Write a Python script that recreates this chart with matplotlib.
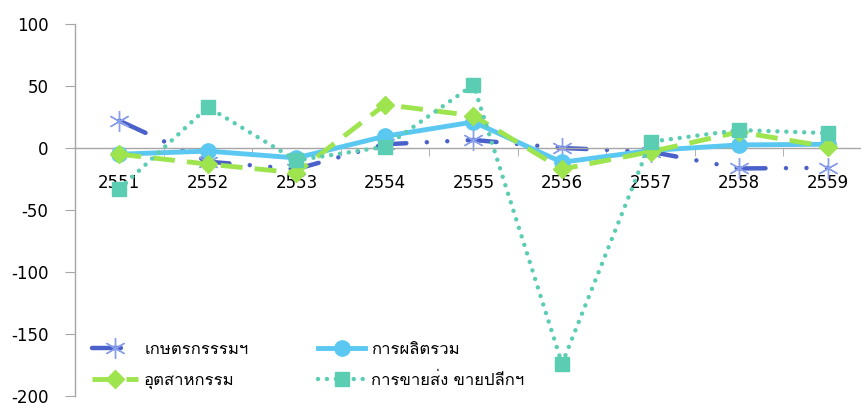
import matplotlib
matplotlib.use('Agg')
import matplotlib.pyplot as plt

# ฟอนต์: ตัวเลขใช้ DejaVu, ภาษาไทยใช้ Loma
plt.rcParams['font.family'] = ['DejaVu Sans', 'Loma']
plt.rcParams['axes.unicode_minus'] = False

# ข้อมูล
years = ['2551', '2552', '2553', '2554', '2555', '2556', '2557', '2558', '2559']
agri = [22, -11, -17, 3, 6.5, 0, -3, -16.5, -16]
prod = [-5, -2.5, -8, 9.5, 21, -11.5, -2, 2.5, 3]
indus = [-5, -13, -20, 35, 26, -17, -3, 13, 1]
trade = [-33, 33, -10, 1, 51, -174, 5, 14.5, 12]

labels = ['เกษตรกรรรมฯ', 'การผลิตรวม', 'อุตสาหกรรม', 'การขายส่ง ขายปลีกฯ']

fig = plt.figure(figsize=(8.62, 4.03), dpi=100)
ax = fig.add_axes([75 / 862, 1 - 396 / 403, 797 / 862, 372 / 403])

x = list(range(len(years)))

l1, = ax.plot(x, agri, color='#4A60CA', lw=3.2,
              dashes=(6.5, 4.6, 0.01, 4.6, 0.01, 4.6),
              dash_capstyle='round', marker=(6, 2, 0), markersize=15,
              markeredgecolor='#8A9FEA', markeredgewidth=1.0, zorder=2)
l2, = ax.plot(x, prod, color='#5BC8F2', lw=3.5, marker='o', markersize=11,
              markeredgecolor='#5BC8F2', zorder=3)
l3, = ax.plot(x, indus, color='#9EE44E', lw=3.5, dashes=(4.5, 2.5),
              marker='D', markersize=9, markeredgecolor='#9EE44E', zorder=4)
l4, = ax.plot(x, trade, color='#5BCDB2', lw=3.2, dashes=(0.01, 2.0),
              dash_capstyle='round', marker='s', markersize=10,
              markeredgecolor='#5BCDB2', zorder=5)

ax.set_xlim(-0.5, 8.5)
ax.set_ylim(-200, 100)
ax.set_yticks([-200, -150, -100, -50, 0, 50, 100])

# แกน x อยู่ที่ 0
ax.spines['bottom'].set_position(('data', 0))
ax.spines['top'].set_visible(False)
ax.spines['right'].set_visible(False)
for s in ['bottom', 'left']:
    ax.spines[s].set_color('#A6A6A6')
    ax.spines[s].set_linewidth(1.0)

ax.set_xticks(x)
ax.set_xticklabels(years)
ax.set_xticks([i + 0.5 for i in range(len(years))], minor=True)
ax.tick_params(axis='x', which='major', length=0, pad=19, labelsize=12)
ax.tick_params(axis='x', which='minor', length=6, color='#A6A6A6', direction='out')
ax.tick_params(axis='y', length=7, color='#A6A6A6', labelsize=12, pad=12)

ax.legend([l1, l3, l2, l4], [labels[0], labels[2], labels[1], labels[3]],
          ncol=2, frameon=False, fontsize=12, handlelength=2.8,
          columnspacing=4.2, labelspacing=0.8, handletextpad=0.35,
          loc='lower left', bbox_to_anchor=(0.0125, 0.0), borderaxespad=0.0)

fig.savefig('out.png')
